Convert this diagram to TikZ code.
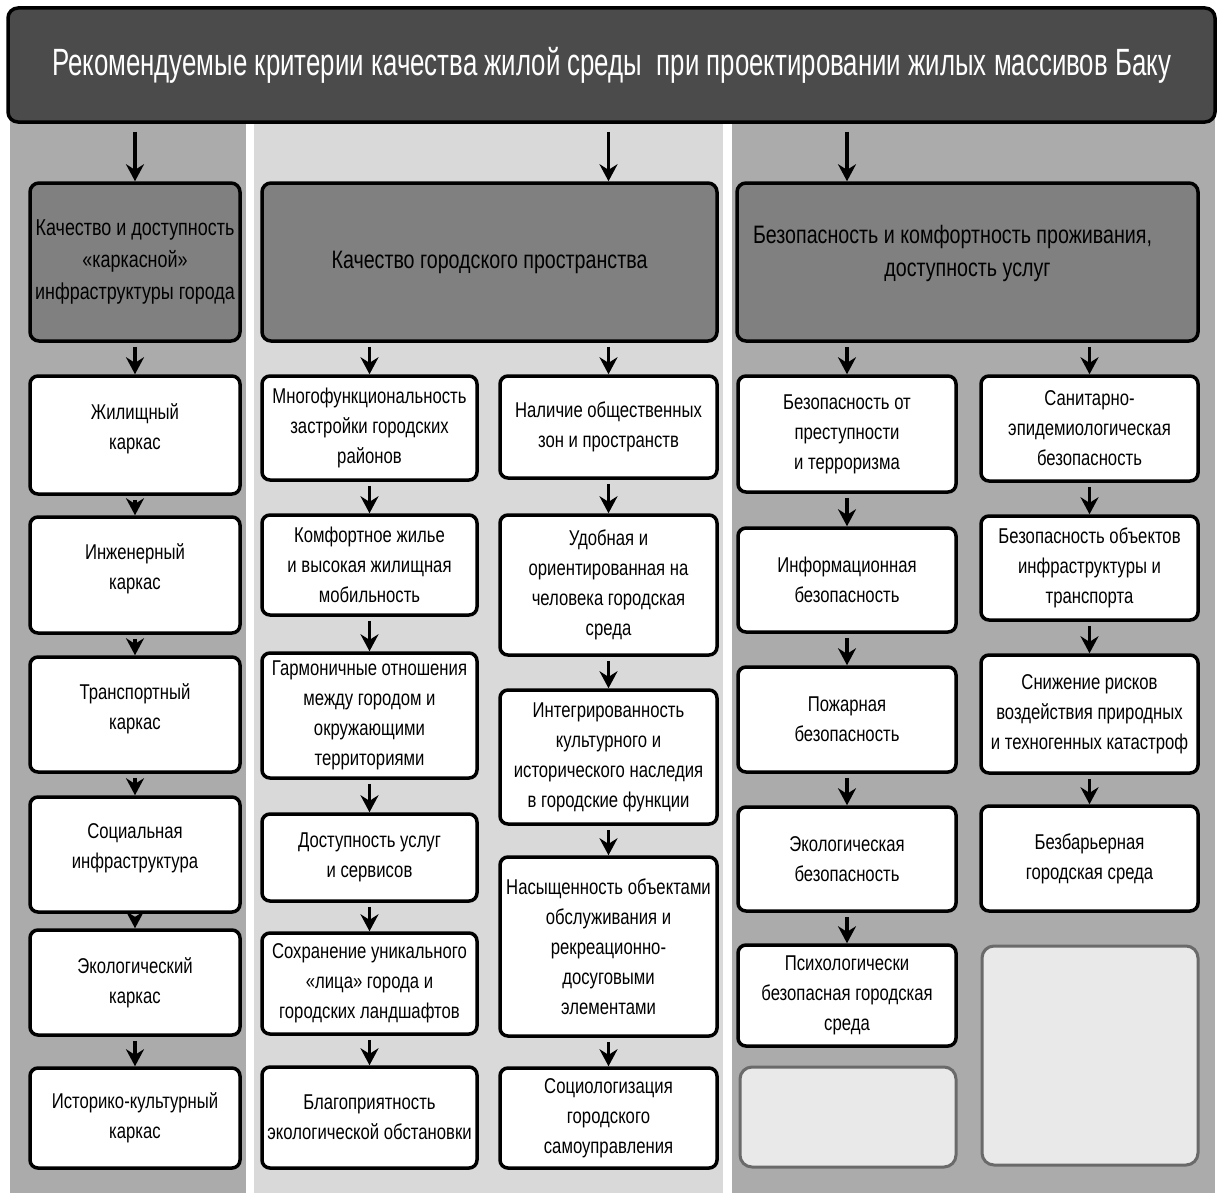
\documentclass[tikz,border=0pt]{standalone}
\usepackage{fontspec}
\setmainfont[FakeStretch=0.78]{Liberation Sans}
\newfontfamily\titlefont[FakeStretch=0.68]{Liberation Sans}
\usetikzlibrary{arrows.meta}
\definecolor{titlegray}{HTML}{4B4B4B}
\definecolor{colgray}{HTML}{ABABAB}
\definecolor{collight}{HTML}{D9D9D9}
\definecolor{topgray}{HTML}{808080}
\definecolor{emptyfill}{HTML}{E9E9E9}
\definecolor{emptyline}{HTML}{6A6A6A}
\newcommand\mybox[7]{%
  \pgfmathsetmacro\bxcx{(#2+#4)/2}%
  \pgfmathsetmacro\bxcy{(#3+#5)/2}%
  \pgfmathsetmacro\bxw{(#4-#2)/2}%
  \pgfmathsetmacro\bxh{(#5-#3)/2}%
  \node[#6, minimum width=\bxw pt, minimum height=\bxh pt] (#1) at (\bxcx,\bxcy) {#7};}
\tikzset{
  titlebox/.style={draw=black, line width=1.75pt, rounded corners=5pt, fill=titlegray, text=white,
    align=center, inner sep=0pt, font=\titlefont\fontsize{19}{23}\selectfont},
  topbox/.style={draw=black, line width=1.75pt, rounded corners=4.5pt, fill=topgray, text=black,
    align=center, inner sep=0pt, font=\fontsize{12.6}{16.5}\selectfont},
  wbox/.style={draw=black, line width=1.75pt, rounded corners=4pt, fill=white, text=black,
    align=center, inner sep=0pt, font=\fontsize{10.7}{15}\selectfont},
  ebox/.style={draw=emptyline, line width=1.5pt, rounded corners=6pt, fill=emptyfill, inner sep=0pt},
  arr/.style={line width=1.9pt, -{Stealth[length=8.5pt,width=9pt,inset=2.8pt]}, shorten <=2pt},
}
\begin{document}
\begin{tikzpicture}[x=0.5pt, y=-0.5pt]
\useasboundingbox (0,0) rectangle (1218,1193);
\fill[white] (0,0) rectangle (1218,1193);
% column backgrounds
\fill[colgray] (10,110) rectangle (246,1193);
\fill[collight] (254,110) rectangle (723,1193);
\fill[colgray] (732,110) rectangle (1215,1193);
% title
\mybox{T}{8}{8}{1215}{122}{titlebox}{Рекомендуемые критерии качества жилой среды \ при проектировании жилых массивов Баку}
% top boxes
\mybox{L0}{30}{183}{240}{341}{topbox, font=\fontsize{11.5}{16}\selectfont}{Качество и доступность\\«каркасной»\\инфраструктуры города}
\mybox{M0}{262}{183}{717}{341}{topbox}{Качество городского пространства}
\mybox{R0}{737}{183}{1198}{341}{topbox}{Безопасность и комфортность проживания,\hspace*{15pt}\\доступность услуг\hspace*{15pt}\\[-5pt]\mbox{}}
% left column
\mybox{L1}{30}{376}{240}{494}{wbox}{Жилищный\\каркас\\[-7pt]\mbox{}}
\mybox{L2}{30}{517}{240}{633}{wbox}{Инженерный\\каркас\\[-7pt]\mbox{}}
\mybox{L3}{30}{657}{240}{772}{wbox}{Транспортный\\каркас\\[-7pt]\mbox{}}
\mybox{L4}{30}{797}{240}{912}{wbox}{Социальная\\инфраструктура\\[-7pt]\mbox{}}
\mybox{L5}{30}{930}{240}{1035}{wbox}{Экологический\\каркас}
\mybox{L6}{30}{1068}{240}{1168}{wbox}{Историко-культурный\\каркас}
% middle column, left
\mybox{MA1}{262}{376}{477}{480}{wbox}{Многофункциональность\\застройки городских\\районов}
\mybox{MA2}{262}{515}{477}{615}{wbox}{Комфортное жилье\\и высокая жилищная\\мобильность}
\mybox{MA3}{262}{653}{477}{778}{wbox}{Гармоничные отношения\\между городом и\\окружающими\\территориями}
\mybox{MA4}{262}{814}{477}{901}{wbox}{Доступность услуг\\и сервисов}
\mybox{MA5}{262}{933}{477}{1034}{wbox}{Сохранение уникального\\«лица» города и\\городских ландшафтов}
\mybox{MA6}{262}{1067}{477}{1168}{wbox}{Благоприятность\\экологической обстановки}
% middle column, right
\mybox{MB1}{500}{376}{717}{478}{wbox}{Наличие общественных\\зон и пространств}
\mybox{MB2}{500}{515}{717}{655}{wbox}{Удобная и\\ориентированная на\\человека городская\\среда}
\mybox{MB3}{500}{690}{717}{824}{wbox}{Интегрированность\\культурного и\\исторического наследия\\в городские функции}
\mybox{MB4}{500}{857}{717}{1036}{wbox}{Насыщенность объектами\\обслуживания и\\рекреационно-\\досуговыми\\элементами}
\mybox{MB5}{500}{1068}{717}{1168}{wbox}{Социологизация\\городского\\самоуправления}
% right column, left
\mybox{RA1}{738}{376}{956}{492}{wbox}{Безопасность от\\преступности\\и терроризма}
\mybox{RA2}{738}{528}{956}{632}{wbox}{Информационная\\безопасность}
\mybox{RA3}{738}{667}{956}{772}{wbox}{Пожарная\\безопасность}
\mybox{RA4}{738}{807}{956}{911}{wbox}{Экологическая\\безопасность}
\mybox{RA5}{738}{945}{956}{1046}{wbox}{Психологически\\безопасная городская\\среда}
\mybox{RA6}{740}{1067}{956}{1167}{ebox}{}
% right column, right
\mybox{RB1}{981}{376}{1198}{481}{wbox}{Санитарно-\\эпидемиологическая\\безопасность}
\mybox{RB2}{981}{516}{1198}{620}{wbox}{Безопасность объектов\\инфраструктуры и\\транспорта}
\mybox{RB3}{981}{655}{1198}{773}{wbox}{Снижение рисков\\воздействия природных\\и техногенных катастроф}
\mybox{RB4}{981}{806}{1198}{911}{wbox}{Безбарьерная\\городская среда}
\mybox{RB5}{982}{946}{1198}{1165}{ebox}{}
% arrows from title
\draw[arr, shorten <=4pt] (L0.north |- T.south) -- (L0.north);
\draw[arr, shorten <=4pt] (T.south -| MB1.north) -- (M0.north -| MB1.north);
\draw[arr, shorten <=4pt] (T.south -| RA1.north) -- (R0.north -| RA1.north);
% arrows from top boxes
\draw[arr] (L0.south) -- (L1.north);
\draw[arr] (M0.south -| MA1.north) -- (MA1.north);
\draw[arr] (M0.south -| MB1.north) -- (MB1.north);
\draw[arr] (R0.south -| RA1.north) -- (RA1.north);
\draw[arr] (R0.south -| RB1.north) -- (RB1.north);
% chains
\foreach \a/\b in {L1/L2,L2/L3,L3/L4,L4/L5,L5/L6,
  MA1/MA2,MA2/MA3,MA3/MA4,MA4/MA5,MA5/MA6,
  MB1/MB2,MB2/MB3,MB3/MB4,MB4/MB5,
  RA1/RA2,RA2/RA3,RA3/RA4,RA4/RA5,
  RB1/RB2,RB2/RB3,RB3/RB4}
  \draw[arr] (\a.south) -- (\b.north);
\end{tikzpicture}
\end{document}
